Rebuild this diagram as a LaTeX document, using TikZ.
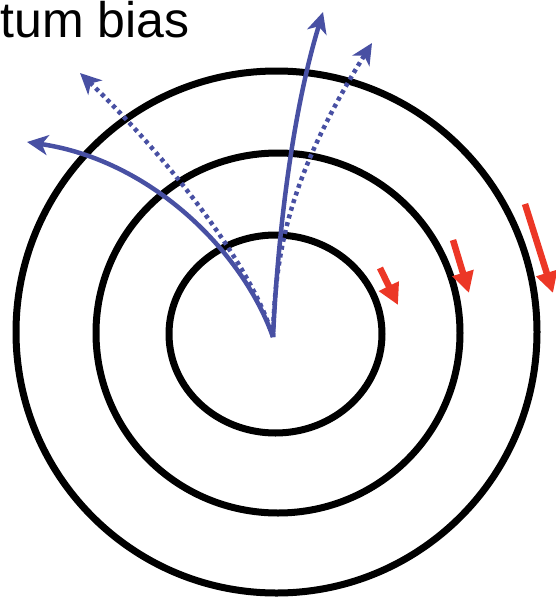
\documentclass[tikz,border=0pt]{standalone}
\usepackage{fontspec}
\setmainfont{Liberation Sans}
\usetikzlibrary{arrows.meta}
\definecolor{ablue}{RGB}{72,80,163}
\definecolor{ared}{RGB}{236,55,38}
\tikzset{
  ring/.style={draw=black, line width=7pt},
  bluearrow/.style={draw=ablue, line width=4.5pt, -{Stealth[length=21pt,width=20pt,inset=6pt]}},
  bluedots/.style={bluearrow, dash pattern=on 4pt off 4pt},
  redarrow/.style={draw=ared, line width=6.5pt, -{Triangle[length=21pt,width=21pt]}},
  label/.style={font=\fontsize{50}{60}\selectfont, inner sep=0pt, anchor=base west}
}
\begin{document}
\begin{tikzpicture}[x=1pt,y=-1pt]
\useasboundingbox (0,0) rectangle (556,600);
\node[label] (title) at (0.5,37) {tum bias};
% rings
\draw[ring] (276.5,332) ellipse [x radius=260.5pt, y radius=261pt];
\draw[ring] (278,333) ellipse [x radius=182pt, y radius=180pt];
\draw[ring] (275.5,334) ellipse [x radius=106.5pt, y radius=99pt];
% origin and ends
\coordinate (O) at (273,337);
\coordinate (tU) at (323,12);
\coordinate (dU) at (372,43);
\coordinate (tL) at (27,142);
\coordinate (dL) at (80,73);
% blue paths
\draw[bluedots] (O) .. controls (275,250) and (290,175) .. (dU);
\draw[bluedots] (O) .. controls (250,260) and (160,150) .. (dL);
\draw[bluearrow] (O) .. controls (277,250) and (290,120) .. (tU);
\draw[bluearrow] (O) .. controls (242,250) and (150,160) .. (tL);
% red arrows
\coordinate (r1a) at (380,268); \coordinate (r1b) at (398,305);
\coordinate (r2a) at (453,240); \coordinate (r2b) at (469,293);
\coordinate (r3a) at (525,204); \coordinate (r3b) at (553,293);
\draw[redarrow] (r1a) -- (r1b);
\draw[redarrow] (r2a) -- (r2b);
\draw[redarrow] (r3a) -- (r3b);
\end{tikzpicture}
\end{document}
